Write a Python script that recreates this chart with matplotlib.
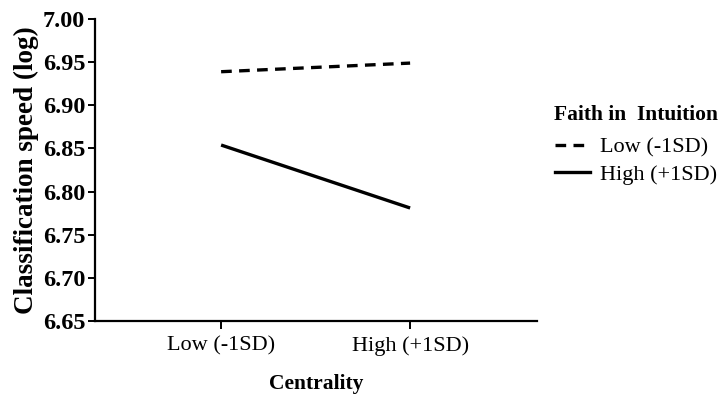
import matplotlib
matplotlib.use('Agg')
import matplotlib.pyplot as plt
from matplotlib.lines import Line2D

# data
centrality = ['Low (-1SD)', 'High (+1SD)']
faith_low = [6.939, 6.949]
faith_high = [6.854, 6.781]
legend_labels = ['Low (-1SD)', 'High (+1SD)']
yticks = [6.65, 6.70, 6.75, 6.80, 6.85, 6.90, 6.95, 7.00]

plt.rcParams['font.family'] = ['Liberation Serif', 'DejaVu Serif']

fig = plt.figure(figsize=(7.2, 3.98), dpi=100)
ax = fig.add_axes([0.132, 0.1935, 0.614, 0.7585])

x = list(range(len(centrality)))
ax.plot(x, faith_low, color='black', lw=2.4, linestyle=(0, (3.2, 2.2)), dash_capstyle='butt')
ax.plot(x, faith_high, color='black', lw=2.4, solid_capstyle='butt')

ax.set_xlim(-0.667, 1.672)
ax.set_ylim(6.65, 7.00)
ax.set_yticks(yticks)
ax.set_yticklabels(['%.2f' % v for v in yticks], fontsize=17.5, fontweight='bold')
ax.set_xticks(x)
ax.set_xticklabels(centrality, fontsize=16)

for s in ['top', 'right']:
    ax.spines[s].set_visible(False)
for s in ['left', 'bottom']:
    ax.spines[s].set_linewidth(1.6)
ax.tick_params(axis='both', direction='out', length=5, width=1.4, pad=2)
ax.tick_params(axis='x', length=6, pad=5)

ax.set_ylabel('Classification speed (log)', fontsize=19.5, fontweight='bold', labelpad=3)
ax.set_xlabel('Centrality', fontsize=15.5, fontweight='bold', labelpad=13)

# legend title drawn separately so the gap below it can match
fig.text(554 / 720, 1 - 115 / 398, 'Faith in  Intuition', fontsize=15.5,
         fontweight='bold', ha='left', va='center')
handles = [Line2D([], [], color='black', lw=2.4, linestyle=(0, (3.2, 2.2))),
           Line2D([], [], color='black', lw=2.4)]
leg = fig.legend(handles, legend_labels,
                 loc='upper left', bbox_to_anchor=(555 / 720, 1 - 137 / 398), frameon=False,
                 fontsize=16, handlelength=1.58, handletextpad=0.45, labelspacing=0.3,
                 borderpad=0, borderaxespad=0)

plt.savefig('out.png', dpi=100)
